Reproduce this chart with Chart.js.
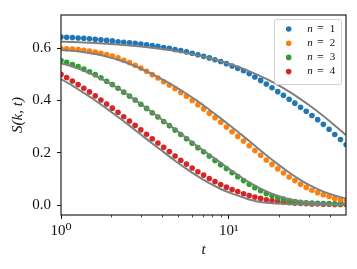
<!DOCTYPE html>
<html><head><meta charset="utf-8">
<script src="https://cdn.jsdelivr.net/npm/chart.js@4"></script>
<style>html,body{margin:0;padding:0;background:#fff;overflow:hidden}</style>
</head><body>
<canvas id="c" width="357" height="269"></canvas>
<script>
// ---- data ----
const tValues = [1.000, 1.081, 1.169, 1.265, 1.368, 1.479, 1.600, 1.730, 1.871, 2.023, 2.188, 2.366, 2.559, 2.767, 2.992, 3.236, 3.499, 3.784, 4.093, 4.426, 4.786, 5.176, 5.598, 6.053, 6.546, 7.079, 7.656, 8.279, 8.954, 9.683, 10.47, 11.32, 12.25, 13.24, 14.32, 15.49, 16.75, 18.11, 19.59, 21.18, 22.91, 24.77, 26.79, 28.97, 31.33, 33.88, 36.64, 39.63, 42.85, 46.34, 50.12];
const seriesLabels = ['n = 1', 'n = 2', 'n = 3', 'n = 4'];
const seriesN1 = [0.643,0.642,0.641,0.639,0.638,0.636,0.634,0.632,0.630,0.628,0.625,0.623,0.621,0.619,0.616,0.613,0.610,0.607,0.603,0.600,0.595,0.591,0.586,0.581,0.575,0.569,0.563,0.556,0.549,0.541,0.532,0.523,0.514,0.503,0.490,0.477,0.463,0.449,0.434,0.420,0.405,0.390,0.374,0.359,0.343,0.327,0.309,0.290,0.270,0.251,0.231];
const seriesN2 = [0.599,0.598,0.597,0.595,0.592,0.589,0.585,0.581,0.576,0.570,0.563,0.554,0.545,0.535,0.524,0.512,0.499,0.486,0.472,0.459,0.445,0.431,0.416,0.400,0.384,0.368,0.351,0.334,0.317,0.299,0.281,0.263,0.245,0.227,0.209,0.191,0.173,0.156,0.139,0.123,0.108,0.094,0.080,0.068,0.057,0.048,0.040,0.033,0.026,0.021,0.016];
const seriesN3 = [0.553,0.546,0.538,0.530,0.520,0.510,0.499,0.487,0.474,0.461,0.447,0.432,0.417,0.402,0.386,0.370,0.353,0.337,0.320,0.304,0.287,0.270,0.254,0.237,0.220,0.204,0.188,0.171,0.155,0.140,0.124,0.109,0.094,0.080,0.067,0.055,0.045,0.036,0.028,0.023,0.018,0.014,0.011,0.009,0.008,0.007,0.0065,0.006,0.0055,0.005,0.005];
const seriesN4 = [0.500,0.488,0.475,0.461,0.447,0.433,0.418,0.402,0.387,0.371,0.355,0.338,0.322,0.305,0.288,0.271,0.254,0.238,0.221,0.205,0.188,0.172,0.157,0.142,0.128,0.115,0.102,0.090,0.079,0.069,0.060,0.052,0.044,0.037,0.031,0.026,0.021,0.018,0.014,0.012,0.010,0.008,0.007,0.006,0.005,0.0045,0.004,0.0035,0.003,0.003,0.003];

const fitT = [1.000, 1.169, 1.368, 1.600, 1.871, 2.188, 2.559, 2.992, 3.499, 4.093, 4.786, 5.598, 6.546, 7.656, 8.954, 10.47, 12.25, 14.32, 16.75, 19.59, 22.91, 26.79, 31.33, 36.64, 42.85, 50.12];
const fitN1 = [0.6251,0.6235,0.6217,0.6195,0.6169,0.6139,0.6104,0.6063,0.6014,0.5958,0.5892,0.5815,0.5726,0.5623,0.5504,0.5366,0.5209,0.5029,0.4825,0.4595,0.4339,0.4055,0.3743,0.3407,0.3049,0.2675];
const fitN2 = [0.593,0.590,0.585,0.578,0.568,0.556,0.540,0.522,0.501,0.478,0.453,0.426,0.397,0.365,0.332,0.298,0.263,0.227,0.191,0.157,0.125,0.096,0.072,0.052,0.037,0.025];
const fitN3 = [0.543,0.530,0.514,0.495,0.472,0.447,0.418,0.387,0.355,0.322,0.290,0.257,0.224,0.193,0.162,0.130,0.101,0.075,0.053,0.036,0.023,0.015,0.009,0.006,0.004,0.003];
const fitN4 = [0.482,0.457,0.429,0.400,0.369,0.337,0.304,0.270,0.236,0.203,0.170,0.139,0.110,0.084,0.062,0.044,0.029,0.016,0.009,0.006,0.004,0.003,0.002,0.002,0.002,0.002];

const yTickValues = [0.0, 0.2, 0.4, 0.6];
const xMajorTicks = [1, 10];
const xTickLabels = ['10\u2070', '10\u00B9'];
const xMinorTicks = [2, 3, 4, 5, 6, 7, 8, 9, 20, 30, 40];
const xAxisTitle = 't';
const yAxisTitle = 'S(k, t)';

// ---- styling ----
const colors = ['#1f77b4', '#ff7f0e', '#2ca02c', '#d62728'];
const serif = "'Liberation Serif', 'DejaVu Serif', serif";
const seriesData = [seriesN1, seriesN2, seriesN3, seriesN4];
const fitData = [fitN1, fitN2, fitN3, fitN4];

const datasets = [];
seriesData.forEach((s, k) => {
  datasets.push({
    label: seriesLabels[k],
    data: tValues.map((t, i) => ({x: t, y: s[i]})),
    backgroundColor: colors[k],
    borderColor: colors[k],
    borderWidth: 0,
    pointRadius: 2.8,
    showLine: false,
    order: 2,
    isSeries: true
  });
});
fitData.forEach((f) => {
  datasets.push({
    label: '',
    data: fitT.map((t, i) => ({x: t, y: f[i]})),
    borderColor: '#808080',
    borderWidth: 2,
    pointRadius: 0,
    showLine: true,
    fill: false,
    cubicInterpolationMode: 'monotone',
    order: 1
  });
});

const framePlugin = {
  id: 'frame',
  afterDraw(chart) {
    const {ctx, chartArea: a, scales} = chart;
    ctx.save();
    // minor ticks on the log axis
    ctx.strokeStyle = '#111';
    ctx.lineWidth = 0.8;
    xMinorTicks.forEach(v => {
      const x = Math.round(scales.x.getPixelForValue(v)) + 0.5;
      ctx.beginPath(); ctx.moveTo(x, a.bottom); ctx.lineTo(x, a.bottom + 2.4); ctx.stroke();
    });
    // frame
    ctx.strokeStyle = '#222';
    ctx.lineWidth = 1.2;
    ctx.strokeRect(a.left, a.top, a.right - a.left, a.bottom - a.top);
    // legend
    const bw = 67, bh = 65;
    const bx = a.right - 5 - bw, by = a.top + 4;
    ctx.beginPath();
    if (ctx.roundRect) ctx.roundRect(bx + 0.5, by + 0.5, bw, bh, 2.5); else ctx.rect(bx + 0.5, by + 0.5, bw, bh);
    ctx.fillStyle = 'rgba(255,255,255,0.8)';
    ctx.fill();
    ctx.strokeStyle = '#d0d0d0';
    ctx.lineWidth = 1;
    ctx.stroke();
    const items = chart.data.datasets.filter(d => d.isSeries);
    items.forEach((d, k) => {
      const cy = by + 10 + k * 14.2;
      ctx.beginPath();
      ctx.arc(bx + 14.7, cy, 2.8, 0, Math.PI * 2);
      ctx.fillStyle = d.backgroundColor;
      ctx.fill();
      const parts = d.label.split(' '); // ['n','=','1']
      ctx.fillStyle = '#111';
      ctx.textBaseline = 'middle';
      ctx.textAlign = 'left';
      const x0 = bx + 33.3;
      ctx.font = 'italic 11px ' + serif;
      ctx.fillText(parts[0], x0, cy);
      ctx.font = '12px ' + serif;
      ctx.fillText(parts[1], x0 + 9.7, cy);
      ctx.font = '11px ' + serif;
      ctx.fillText(parts[2], x0 + 22.4, cy);
    });
    ctx.restore();
  }
};

new Chart(document.getElementById('c'), {
  type: 'scatter',
  data: {datasets},
  options: {
    responsive: false,
    animation: false,
    devicePixelRatio: 1,
    layout: {padding: {left: 0, top: 11, right: 11, bottom: 0}},
    plugins: {legend: {display: false}, tooltip: {enabled: false}},
    scales: {
      x: {
        type: 'logarithmic',
        min: 1, max: 50,
        afterBuildTicks(s) { s.ticks = xMajorTicks.map(v => ({value: v, major: true})); },
        afterFit(s) { s.height = 54; },
        ticks: {
          autoSkip: false, maxRotation: 0, padding: 3, color: '#111',
          font: {family: serif, size: 15},
          callback: (v) => { const k = xMajorTicks.indexOf(v); return k >= 0 ? xTickLabels[k] : ''; }
        },
        grid: {drawOnChartArea: false, drawTicks: true, tickLength: 4, tickColor: '#111', tickWidth: 1},
        border: {display: false},
        title: {display: true, text: xAxisTitle, color: '#111', font: {family: serif, size: 15, style: 'italic'}, padding: {top: 0, bottom: 9.5}}
      },
      y: {
        type: 'linear',
        min: -0.0375, max: 0.727,
        afterBuildTicks(s) { s.ticks = yTickValues.map(v => ({value: v})); },
        afterFit(s) { s.width = 61; },
        ticks: {
          padding: 6, color: '#111',
          font: {family: serif, size: 15},
          callback: (v) => Number(v).toFixed(1)
        },
        grid: {drawOnChartArea: false, drawTicks: true, tickLength: 4, tickColor: '#111', tickWidth: 1},
        border: {display: false},
        title: {display: true, text: yAxisTitle, color: '#111', font: {family: serif, size: 15, style: 'italic'}, padding: {top: 9, bottom: 0}}
      }
    }
  },
  plugins: [framePlugin]
});
</script>
</body></html>
